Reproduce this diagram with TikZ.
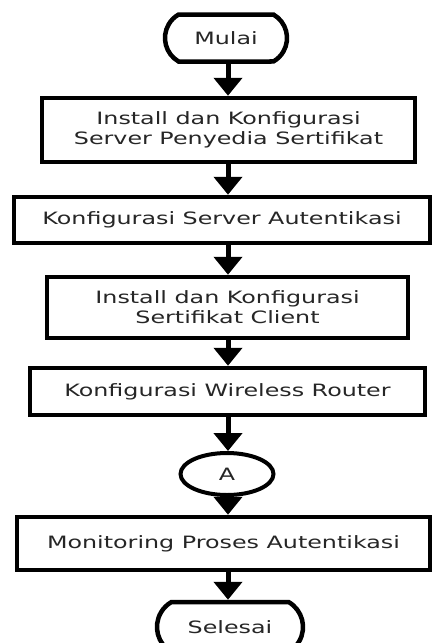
\documentclass[tikz,border=0pt]{standalone}
\usepackage{fontspec}
\setmainfont{DejaVu Sans}
\usetikzlibrary{shapes.misc,shapes.geometric,arrows.meta}
\newcommand\widetxt[1]{\scalebox{1.4}[1]{#1}}
\begin{document}
\begin{tikzpicture}[x=1pt,y=-1pt,
  proc/.style={draw,line width=4.5pt,rectangle,inner sep=0pt,align=center,font=\fontsize{17}{20}\selectfont,text=black!85},
  term/.style={draw,line width=4.5pt,rounded rectangle,rounded rectangle arc length=120,inner sep=0pt,font=\fontsize{17}{20}\selectfont,text=black!85},
  conn/.style={draw,line width=4pt,ellipse,inner sep=0pt,font=\fontsize{17}{20}\selectfont,text=black!85},
  flow/.style={line width=5pt,-{Triangle[width=28pt,length=18pt]}}]
\useasboundingbox (0,0) rectangle (434,643);
\fill[white] (0,0) rectangle (434,643);
\coordinate (axis) at (228,0);
\node[term,minimum width=122pt,minimum height=47pt] (mulai) at (226,38) {\widetxt{Mulai}};
\node[proc,minimum width=373pt,minimum height=64pt] (b1) at (228.5,130) {\widetxt{Install dan Konfigurasi}\\\widetxt{Server Penyedia Sertifikat}};
\node[proc,minimum width=416pt,minimum height=46pt] (b2) at (222,220) {\widetxt{Konfigurasi Server Autentikasi}};
\node[proc,minimum width=361pt,minimum height=61pt] (b3) at (227.5,307.5) {\widetxt{Install dan Konfigurasi}\\\widetxt{Sertifikat Client}};
\node[proc,minimum width=395pt,minimum height=47pt] (b4) at (227.5,391.5) {\widetxt{Konfigurasi Wireless Router}};
\node[conn,minimum width=93pt,minimum height=42pt] (A) at (227,474) {\widetxt{A}};
\node[proc,minimum width=413pt,minimum height=53pt] (b5) at (223.5,543.5) {\widetxt{Monitoring Proses Autentikasi}};
\node[term,minimum width=146pt,minimum height=50pt] (sel) at (230,627) {\widetxt{Selesai}};
\draw[flow] (mulai.south -| axis) -- (b1.north -| axis);
\draw[flow] (b1.south -| axis) -- (b2.north -| axis);
\draw[flow] (b2.south -| axis) -- (b3.north -| axis);
\draw[flow] (b3.south -| axis) -- (b4.north -| axis);
\draw[flow] (b4.south -| axis) -- (A.north -| axis);
\draw[flow] (A.south -| axis) -- (b5.north -| axis);
\draw[flow] (b5.south -| axis) -- (sel.north -| axis);
\end{tikzpicture}
\end{document}
